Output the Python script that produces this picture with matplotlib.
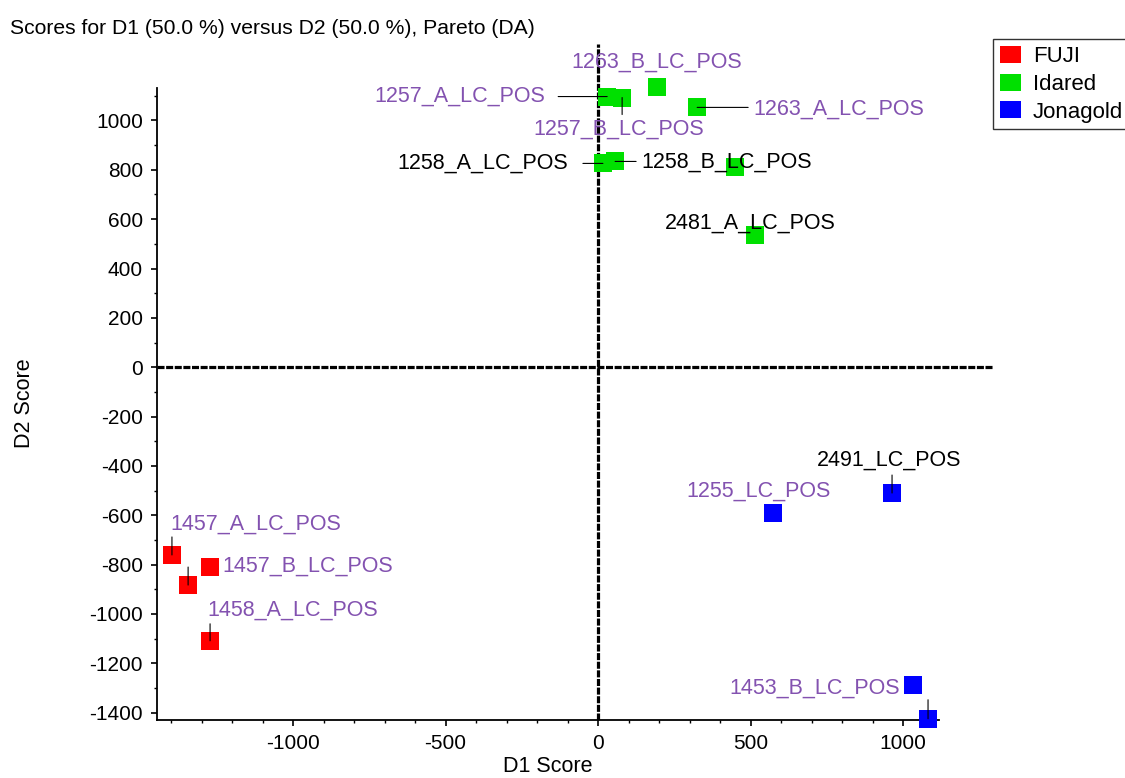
import matplotlib
matplotlib.use("Agg")
import matplotlib.pyplot as plt
from matplotlib.patches import Patch
from matplotlib.ticker import FixedLocator

# Scores
fuji_names = ["1457_A_LC_POS", "", "1457_B_LC_POS", "1458_A_LC_POS"]
fuji_d1 = [-1397, -1344, -1272, -1272]
fuji_d2 = [-761, -883, -810, -1109]

idared_names = ["1257_A_LC_POS", "1257_B_LC_POS", "1263_B_LC_POS", "1263_A_LC_POS",
                "1258_A_LC_POS", "1258_B_LC_POS", "", "2481_A_LC_POS"]
idared_d1 = [30, 79, 193, 325, 16, 56, 449, 515]
idared_d2 = [1097, 1093, 1134, 1053, 826, 834, 810, 534]

jona_names = ["1255_LC_POS", "2491_LC_POS", "1453_B_LC_POS", ""]
jona_d1 = [574, 964, 1033, 1082]
jona_d2 = [-591, -510, -1287, -1425]

groups = ["FUJI", "Idared", "Jonagold"]
colors = ["#ff0000", "#00e000", "#0000ff"]

x_major = [-1000, -500, 0, 500, 1000]
y_major = list(range(-1400, 1001, 200))

PURPLE = "#8352b0"

# label layout: name -> (dx px, dy px, ha, color, leader end offset px or None)
label_layout = {
    "1457_A_LC_POS": (-2, 31, "left", PURPLE, (0, 18)),
    "1457_B_LC_POS": (12, 1, "left", PURPLE, None),
    "1458_A_LC_POS": (-3, 31, "left", PURPLE, (0, 17)),
    "1257_A_LC_POS": (-62, 0, "right", PURPLE, (-49, 0)),
    "1257_B_LC_POS": (-3, -32, "center", PURPLE, (0, -17)),
    "1263_B_LC_POS": (0, 25, "center", PURPLE, None),
    "1263_A_LC_POS": (56, -2, "left", PURPLE, (51, 0)),
    "1258_A_LC_POS": (-35, 0, "right", "black", (-20, 0)),
    "1258_B_LC_POS": (26, -1, "left", "black", (21, 0)),
    "2481_A_LC_POS": (-5, 12, "center", "black", None),
    "1255_LC_POS": (-15, 22, "center", PURPLE, None),
    "2491_LC_POS": (-3, 33, "center", "black", (0, 18)),
    "1453_B_LC_POS": (-13, -3, "right", PURPLE, None),
}
# unlabeled points that still show a short leader tick
bare_leaders = {(-1344, -883): (0, 18), (1082, -1425): (0, 19)}

FONT = "Liberation Sans"


def leader(ax, x, y, off):
    ax.annotate("", xy=(x, y), xytext=off, textcoords="offset pixels", zorder=4,
                arrowprops=dict(arrowstyle="-", color="black", lw=0.8,
                                shrinkA=0, shrinkB=0))


def main():
    plt.rcParams["font.family"] = [FONT, "DejaVu Sans"]
    plt.rcParams["axes.unicode_minus"] = False
    fig = plt.figure(figsize=(11.25, 7.78), dpi=100)
    ax = fig.add_axes([157 / 1125, 1 - 720 / 778, (993 - 157) / 1125, (720 - 44) / 778])
    ax.set_xlim(-1446, 1295)
    ax.set_ylim(-1430, 1310)

    ax.axhline(0, color="black", lw=2.3, ls=(0, (2.2, 0.5)), zorder=1)
    ax.axvline(0, color="black", lw=2.3, ls=(0, (2.2, 0.5)), zorder=1)

    all_sets = [(fuji_names, fuji_d1, fuji_d2), (idared_names, idared_d1, idared_d2),
                (jona_names, jona_d1, jona_d2)]
    for (names, xs, ys), col in zip(all_sets, colors):
        ax.plot(xs, ys, ls="", marker="s", markersize=13.5, color=col,
                markeredgewidth=0, zorder=3, clip_on=False)
        for name, x, y in zip(names, xs, ys):
            if name in label_layout:
                dx, dy, ha, tcol, lead = label_layout[name]
                ax.annotate(name, xy=(x, y), xytext=(dx, dy), textcoords="offset pixels",
                            ha=ha, va="center", fontsize=15.5, color=tcol, zorder=4)
                if lead is not None:
                    leader(ax, x, y, lead)
            elif (x, y) in bare_leaders:
                leader(ax, x, y, bare_leaders[(x, y)])

    for s in ["top", "right"]:
        ax.spines[s].set_visible(False)
    ax.spines["left"].set_bounds(-1430, 1130)
    ax.spines["bottom"].set_bounds(-1446, 1118)
    ax.spines["left"].set_linewidth(1.3)
    ax.spines["bottom"].set_linewidth(1.3)

    ax.set_xticks(x_major)
    ax.set_yticks(y_major)
    ax.xaxis.set_minor_locator(FixedLocator(range(-1400, 1101, 100)))
    ax.yaxis.set_minor_locator(FixedLocator(range(-1400, 1101, 100)))
    ax.tick_params(which="major", length=4, width=1.2, labelsize=15, pad=6)
    ax.tick_params(which="minor", length=2.5, width=1.0)

    fig.text(10 / 1125, 1 - 28 / 778, "Scores for D1 (50.0 %) versus D2 (50.0 %), Pareto (DA)",
             fontsize=15.2, va="center", ha="left")
    fig.text(548 / 1125, 1 - 766 / 778, "D1 Score", fontsize=15.5, ha="center", va="center")
    fig.text(25 / 1125, 1 - 403 / 778, "D2 Score", fontsize=15.5, ha="center", va="center",
             rotation=90)

    handles = [Patch(facecolor=c, edgecolor="none") for c in colors]
    leg = fig.legend(handles, groups, loc="upper left", bbox_to_anchor=(993 / 1125, 1 - 39 / 778),
                     fontsize=16, frameon=True, fancybox=False, handlelength=0.95,
                     handleheight=0.8, handletextpad=0.55, borderpad=0.3, labelspacing=0.3,
                     borderaxespad=0)
    leg.get_frame().set_edgecolor("black")
    leg.get_frame().set_linewidth(1.0)

    fig.savefig("out.png", dpi=100)
    plt.close(fig)


if __name__ == "__main__":
    main()
